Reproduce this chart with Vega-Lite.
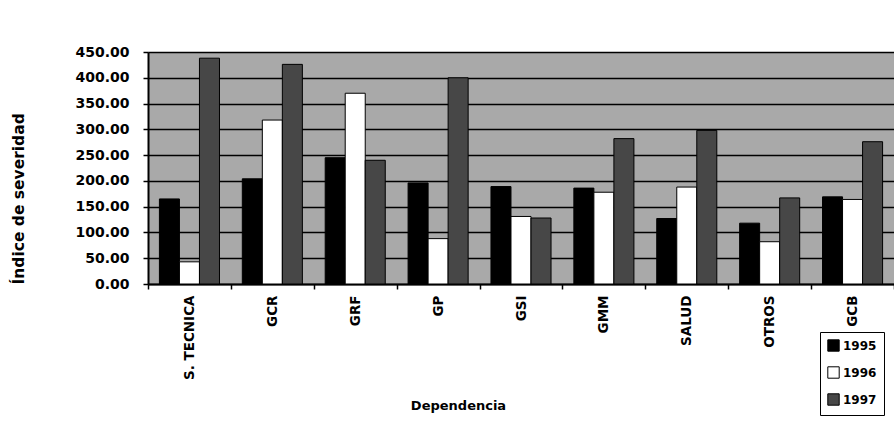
{
  "$schema": "https://vega.github.io/schema/vega-lite/v6.json",
  "autosize": {"type": "none"},
  "padding": {"left": 148, "top": 52, "right": 0, "bottom": 141},
  "width": 746,
  "height": 232,
  "background": "white",
  "data": {
    "values": [
      {"dep": "S. TECNICA", "year": "1995", "value": 165},
      {"dep": "S. TECNICA", "year": "1996", "value": 43},
      {"dep": "S. TECNICA", "year": "1997", "value": 438},
      {"dep": "GCR", "year": "1995", "value": 204},
      {"dep": "GCR", "year": "1996", "value": 318},
      {"dep": "GCR", "year": "1997", "value": 426},
      {"dep": "GRF", "year": "1995", "value": 245},
      {"dep": "GRF", "year": "1996", "value": 370},
      {"dep": "GRF", "year": "1997", "value": 240},
      {"dep": "GP", "year": "1995", "value": 196},
      {"dep": "GP", "year": "1996", "value": 88},
      {"dep": "GP", "year": "1997", "value": 400},
      {"dep": "GSI", "year": "1995", "value": 189},
      {"dep": "GSI", "year": "1996", "value": 131},
      {"dep": "GSI", "year": "1997", "value": 128},
      {"dep": "GMM", "year": "1995", "value": 186},
      {"dep": "GMM", "year": "1996", "value": 178},
      {"dep": "GMM", "year": "1997", "value": 282},
      {"dep": "SALUD", "year": "1995", "value": 127},
      {"dep": "SALUD", "year": "1996", "value": 188},
      {"dep": "SALUD", "year": "1997", "value": 298},
      {"dep": "OTROS", "year": "1995", "value": 118},
      {"dep": "OTROS", "year": "1996", "value": 82},
      {"dep": "OTROS", "year": "1997", "value": 167},
      {"dep": "GCB", "year": "1995", "value": 169},
      {"dep": "GCB", "year": "1996", "value": 164},
      {"dep": "GCB", "year": "1997", "value": 276}
    ]
  },
  "mark": {"type": "bar", "stroke": "black", "strokeWidth": 1},
  "encoding": {
    "x": {
      "field": "dep", "type": "nominal", "sort": null,
      "scale": {"paddingInner": 0, "paddingOuter": 0},
      "axis": {
        "title": "Dependencia",
        "titleFont": "DejaVu Sans", "titleFontWeight": "bold", "titleFontSize": 13, "titleColor": "black",
        "titleX": 310, "titleY": 121, "titleBaseline": "middle",
        "labelAngle": 270, "labelFont": "DejaVu Sans", "labelFontWeight": "bold", "labelFontSize": 13.5, "labelColor": "black",
        "labelPadding": 6,
        "tickBand": "extent", "tickColor": "black", "tickSize": 5, "tickWidth": 1.5,
        "domainColor": "black", "domainWidth": 2, "grid": false
      }
    },
    "xOffset": {"field": "year", "type": "nominal", "scale": {"paddingInner": 0, "paddingOuter": 0.57}},
    "y": {
      "field": "value", "type": "quantitative",
      "scale": {"domain": [0, 450], "nice": false},
      "axis": {
        "title": "Índice de severidad",
        "titleFont": "DejaVu Sans", "titleFontWeight": "bold", "titleFontSize": 15.5, "titleColor": "black",
        "titleAnchor": "start", "titlePadding": 48,
        "values": [0, 50, 100, 150, 200, 250, 300, 350, 400, 450],
        "format": ".2f",
        "labelFont": "DejaVu Sans", "labelFontWeight": "bold", "labelFontSize": 14, "labelColor": "black",
        "labelPadding": 14,
        "tickColor": "black", "tickSize": 5, "tickWidth": 1.5,
        "domainColor": "black", "domainWidth": 2,
        "grid": true, "gridColor": "black", "gridWidth": 1.5, "gridOpacity": 1
      }
    },
    "fill": {
      "field": "year", "type": "nominal",
      "scale": {"domain": ["1995", "1996", "1997"], "range": ["#000000", "#ffffff", "#474747"]},
      "legend": {
        "title": null, "orient": "none", "legendX": 672, "legendY": 280,
        "strokeColor": "black", "padding": 7, "symbolType": "square", "symbolSize": 130,
        "symbolStrokeColor": "black", "symbolStrokeWidth": 1, "rowPadding": 10,
        "labelFont": "DejaVu Sans", "labelFontWeight": "bold", "labelFontSize": 12, "labelColor": "black",
        "labelOffset": 3
      }
    }
  },
  "config": {
    "view": {"stroke": null, "fill": "#a9a9a9"}
  }
}
